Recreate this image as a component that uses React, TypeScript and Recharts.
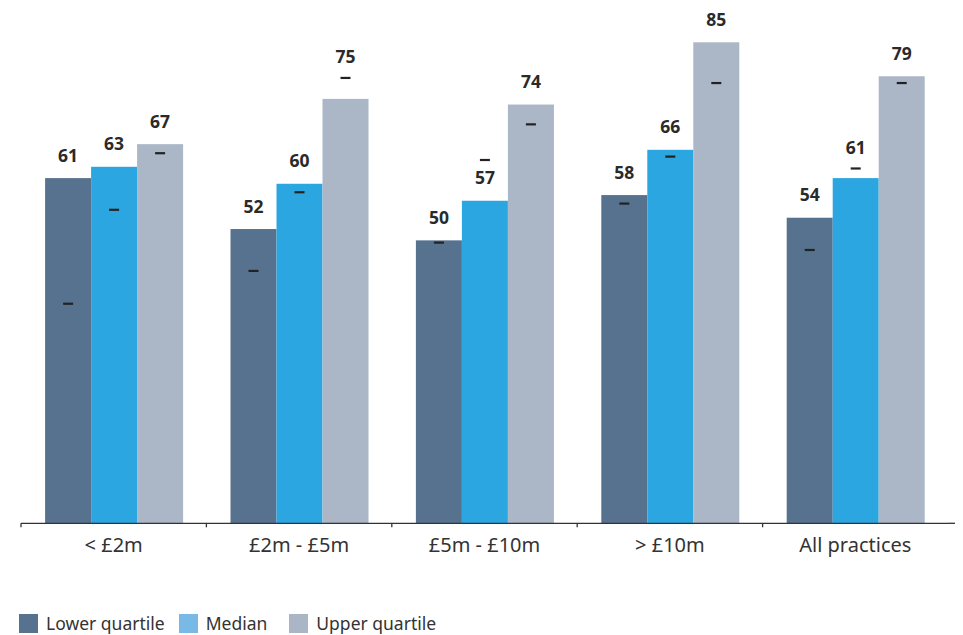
import React from 'react';
import { BarChart, Bar, XAxis, YAxis, LabelList } from 'recharts';

const categories = ['< £2m', '£2m - £5m', '£5m - £10m', '> £10m', 'All practices'];
const lowerQuartile = [61, 52, 50, 58, 54];
const median = [63, 60, 57, 66, 61];
const upperQuartile = [67, 75, 74, 85, 79];
// short dash markers (previous figures)
const lowerPrev = [38.8, 44.6, 49.6, 56.5, 48.3];
const medianPrev = [55.4, 58.5, 64.2, 64.8, 62.7];
const upperPrev = [65.4, 78.7, 70.5, 77.8, 77.8];

const FONT = '"Noto Sans", Lato, sans-serif';
const W = 955;
const H = 635;
const MARGIN = { top: 14, right: 15, bottom: 81.7, left: 13 };
const AXIS_H = 30;
const AXIS_Y = H - MARGIN.bottom - AXIS_H;
const BAND = (W - MARGIN.left - MARGIN.right) / categories.length;
const AXIS_END = 951;

const COLORS = {
  lower: '#56728F',
  median: '#2BA6E0',
  upper: '#ABB7C7',
};
const LEGEND_COLORS = {
  lower: '#56728F',
  median: '#79B9E6',
  upper: '#AAB6C6',
};

const data = categories.map((name, i) => ({
  name,
  lower: lowerQuartile[i],
  median: median[i],
  upper: upperQuartile[i],
  lowerPrev: lowerPrev[i],
  medianPrev: medianPrev[i],
  upperPrev: upperPrev[i],
}));

function dashY(y: number, height: number, value: number, prev: number) {
  return y + height - (height * prev) / value;
}

function makeShape(fill: string, prevKey: string) {
  return (props: any) => {
    const { x, y, width, height, payload, value } = props;
    const v = Array.isArray(value) ? value[1] : value;
    const dy = dashY(y, height, v, payload[prevKey]);
    const cx = x + width / 2;
    return (
      <g>
        <rect x={x} y={y} width={width} height={height} fill={fill} />
        <line x1={cx - 5} x2={cx + 5} y1={dy} y2={dy} stroke="#222" strokeWidth={2.2} />
      </g>
    );
  };
}

function makeLabel(prev: number[]) {
  return (props: any) => {
    const { x, y, width, height, value, index } = props;
    const dy = dashY(y, height, value, prev[index]);
    let baseline = y - 16.5;
    if (dy < y && y - dy < 30) baseline = dy - 14.5;
    return (
      <text
        x={x + width / 2}
        y={baseline}
        textAnchor="middle"
        fontFamily={FONT}
        fontWeight={700}
        fontSize={17.5}
        fill="#2a2a2a"
      >
        {value}
      </text>
    );
  };
}

function CategoryTick(props: any) {
  const { x, payload, index } = props;
  const left = x - BAND / 2;
  const right = x + BAND / 2;
  return (
    <g>
      <line x1={left} x2={left} y1={AXIS_Y} y2={AXIS_Y + 4} stroke="#333" strokeWidth={1.3} />
      {index === categories.length - 1 && (
        <>
          <line x1={right} x2={AXIS_END} y1={AXIS_Y} y2={AXIS_Y} stroke="#333" strokeWidth={1.3} />
          <line x1={AXIS_END} x2={AXIS_END} y1={AXIS_Y} y2={AXIS_Y + 4} stroke="#333" strokeWidth={1.3} />
        </>
      )}
      <text
        x={x}
        y={AXIS_Y + 29}
        textAnchor="middle"
        fontFamily={FONT}
        fontSize={20}
        fill="#333"
      >
        {payload.value}
      </text>
    </g>
  );
}

const legendItems = [
  { label: 'Lower quartile', color: LEGEND_COLORS.lower, gap: 14 },
  { label: 'Median', color: LEGEND_COLORS.median, gap: 22 },
  { label: 'Upper quartile', color: LEGEND_COLORS.upper, gap: 0 },
];

export default function App() {
  return (
    <div style={{ position: 'relative', width: W, height: H, marginTop: -8 }}>
      <BarChart
        width={W}
        height={H}
        data={data}
        margin={MARGIN}
        barCategoryGap="13%"
        barGap={0}
      >
        <XAxis
          dataKey="name"
          height={AXIS_H}
          axisLine={{ stroke: '#333', strokeWidth: 1.3 }}
          tickLine={false}
          tick={<CategoryTick />}
          interval={0}
        />
        <YAxis hide domain={[0, 90]} />
        <Bar dataKey="lower" fill={COLORS.lower} shape={makeShape(COLORS.lower, 'lowerPrev')} isAnimationActive={false}>
          <LabelList dataKey="lower" content={makeLabel(lowerPrev)} />
        </Bar>
        <Bar dataKey="median" fill={COLORS.median} shape={makeShape(COLORS.median, 'medianPrev')} isAnimationActive={false}>
          <LabelList dataKey="median" content={makeLabel(medianPrev)} />
        </Bar>
        <Bar dataKey="upper" fill={COLORS.upper} shape={makeShape(COLORS.upper, 'upperPrev')} isAnimationActive={false}>
          <LabelList dataKey="upper" content={makeLabel(upperPrev)} />
        </Bar>
      </BarChart>
      <div
        style={{
          position: 'absolute',
          left: 11,
          top: 611,
          display: 'flex',
          alignItems: 'center',
          fontFamily: FONT,
          fontSize: 17.5,
          color: '#333',
        }}
      >
        {legendItems.map((item) => (
          <div key={item.label} style={{ display: 'flex', alignItems: 'center', marginRight: item.gap }}>
            <span style={{ width: 19, height: 19, background: item.color, display: 'inline-block', marginRight: 8 }} />
            <span>{item.label}</span>
          </div>
        ))}
      </div>
    </div>
  );
}
